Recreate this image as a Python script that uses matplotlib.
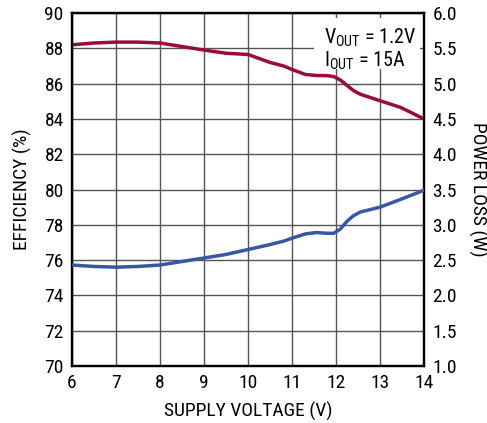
import matplotlib
matplotlib.use('Agg')
import matplotlib.pyplot as plt
from matplotlib import font_manager

# values
supply_v = [6.0, 6.5, 7.0, 7.5, 8.0, 8.5, 9.0, 9.5, 10.0, 10.5, 10.82, 11.0,
            11.3, 11.55, 11.8, 11.95, 12.1, 12.25, 12.4, 12.55, 13.0, 13.47,
            14.0]
efficiency = [88.2, 88.3, 88.35, 88.35, 88.3, 88.1, 87.9, 87.72, 87.65, 87.2,
              86.99, 86.8, 86.52, 86.46, 86.45, 86.4, 86.2, 85.9, 85.6, 85.4,
              85.03, 84.65, 84.0]
power_loss = [2.43, 2.41, 2.40, 2.41, 2.43, 2.48, 2.53, 2.58, 2.65, 2.72,
              2.77, 2.81, 2.87, 2.89, 2.88, 2.88, 2.94, 3.05, 3.13, 3.18,
              3.25, 3.36, 3.49]

eff_ticks = list(range(70, 91, 2))
loss_ticks = [1.0, 1.5, 2.0, 2.5, 3.0, 3.5, 4.0, 4.5, 5.0, 5.5, 6.0]
v_ticks = list(range(6, 15))


def first_font(names):
    for n in names:
        try:
            font_manager.findfont(font_manager.FontProperties(family=n),
                                  fallback_to_default=False)
            return n
        except ValueError:
            pass
    return 'DejaVu Sans'


main_font = first_font(['Liberation Sans Narrow', 'Roboto Condensed',
                        'DejaVu Sans Condensed', 'Roboto'])
plt.rcParams['font.family'] = [main_font, 'DejaVu Sans']
plt.rcParams['mathtext.fontset'] = 'custom'
plt.rcParams['mathtext.rm'] = main_font

fig = plt.figure(figsize=(4.87, 4.23), dpi=100)
ax = fig.add_axes([72 / 487, (423 - 366) / 423, 352 / 487, 353 / 423])
ax2 = ax.twinx()

ax.set_xlim(6, 14)
ax.set_ylim(70, 90)
ax2.set_ylim(1.0, 6.0)
ax.set_xticks(v_ticks)
ax.set_yticks(eff_ticks)
ax2.set_yticks(loss_ticks)
ax2.set_yticklabels(['%.1f' % t for t in loss_ticks])

ax.grid(True, color='#555555', linewidth=1.0)
ax.set_axisbelow(True)
for a in (ax, ax2):
    for s in a.spines.values():
        s.set_linewidth(1.6)
        s.set_color('black')
    a.tick_params(length=0, labelsize=14, pad=6)

# white box behind the annotation, hiding the grid
ax.axvspan(11.5, 13.9, ymin=0.84, ymax=0.985, color='white',
           zorder=2, linewidth=0)
ax.text(11.72, 89.2, 'V$_{\\mathrm{OUT}}$ = 1.2V\nI$_{\\mathrm{OUT}}$ = 15A',
        ha='left', va='top', fontsize=14.5, linespacing=1.0, zorder=5)

ax.plot(supply_v, efficiency, color='#9b0a3a', linewidth=2.5, zorder=6)
ax2.plot(supply_v, power_loss, color='#3a56a6', linewidth=2.5, zorder=6)

ax.set_xlabel('SUPPLY VOLTAGE (V)', fontsize=14, labelpad=7)
ax.set_ylabel('EFFICIENCY (%)', fontsize=14, labelpad=9)
ax2.set_ylabel('POWER LOSS (W)', fontsize=14, rotation=270, labelpad=22)

fig.savefig('out.png', dpi=100)
plt.close(fig)
